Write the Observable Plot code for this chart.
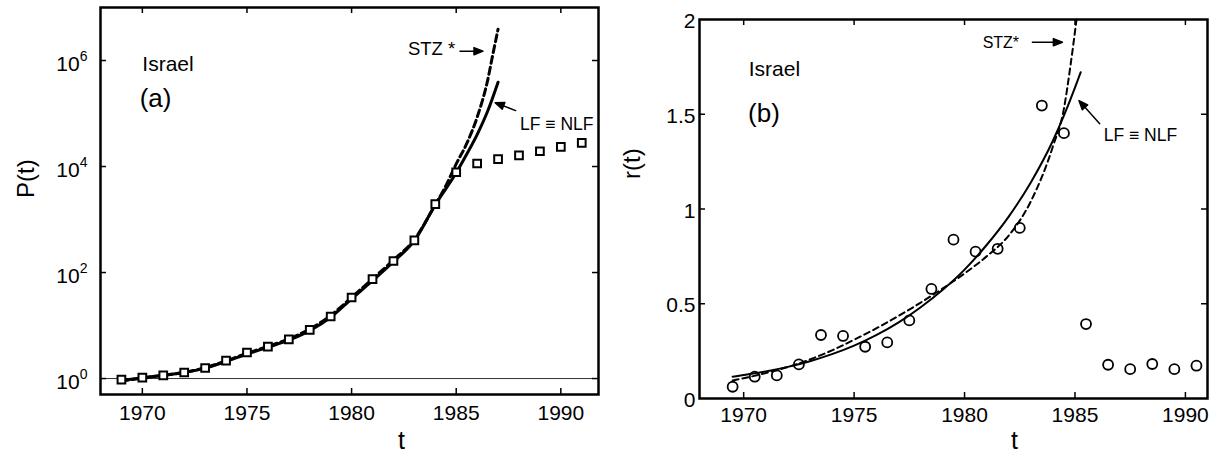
<!DOCTYPE html>
<html><head><meta charset="utf-8">
<script src="https://cdn.jsdelivr.net/npm/d3@7"></script>
<script src="https://cdn.jsdelivr.net/npm/@observablehq/plot@0.6"></script>
<style>
html,body{margin:0;padding:0;background:#fff;}
#wrap{display:flex;width:1220px;height:456px;}
#wrap svg{display:block;flex:none;}
</style></head><body><div id="wrap"></div>
<script>
// ---------- Panel (a): P(t), log scale ----------
const yearsP = [1969,1970,1971,1972,1973,1974,1975,1976,1977,1978,1979,1980,1981,1982,1983,1984,1985,1986,1987,1988,1989,1990,1991];
const P = [0.95,1.04,1.15,1.3,1.58,2.18,3.1,4.0,5.5,8.3,14.8,33.8,75,165,405,1950,7800,11400,13800,16300,19400,23400,27900];
const tLF_P = [1969,1970,1971,1972,1973,1974,1975,1976,1977,1978,1979,1980,1981,1982,1983,1984,1985,1985.5,1986,1986.5,1987];
const LF_P = [0.92,1.03,1.15,1.3,1.57,2.1,2.9,3.9,5.3,8.0,14.3,32,70,160,400,1900,7600,17000,40000,110000,390000];
const tSTZ_P = [1969,1970,1971,1972,1973,1974,1975,1976,1977,1978,1979,1980,1981,1982,1983,1984,1984.5,1985,1985.5,1986,1986.5,1986.75,1987];
const STZ_P = [0.9,1.02,1.15,1.31,1.6,2.15,3.0,4.05,5.6,8.6,15.5,34,76,172,420,1900,4300,11200,27000,85000,420000,1300000,3900000];
const xTicksL = [1970,1975,1980,1985,1990];
const yTicksL = [1,100,10000,1000000];

// ---------- Panel (b): r(t) ----------
const yearsR = [1969.5,1970.5,1971.5,1972.5,1973.5,1974.5,1975.5,1976.5,1977.5,1978.5,1979.5,1980.5,1981.5,1982.5,1983.5,1984.5,1985.5,1986.5,1987.5,1988.5,1989.5,1990.5];
const R = [0.062,0.115,0.122,0.18,0.335,0.33,0.273,0.296,0.412,0.578,0.838,0.775,0.79,0.9,1.546,1.40,0.393,0.178,0.155,0.182,0.155,0.173];
const tLF_R = [1969.5,1970,1971,1972,1973,1974,1975,1976,1977,1978,1979,1980,1981,1982,1983,1984,1985,1985.26];
const LF_R = [0.115,0.124,0.143,0.167,0.197,0.234,0.279,0.334,0.4,0.48,0.572,0.68,0.81,0.96,1.14,1.36,1.64,1.722];
const tSTZ_R = [1969.5,1970,1971,1972,1973,1974,1975,1976,1977,1978,1979,1980,1981,1982,1983,1984,1984.5,1984.8,1985.07];
const STZ_R = [0.095,0.107,0.134,0.166,0.206,0.254,0.31,0.37,0.435,0.505,0.58,0.66,0.75,0.86,1.04,1.33,1.53,1.76,2.0];
const xTicksR = [1970,1975,1980,1985,1990];
const yTicksR = [0,0.5,1,1.5,2];

const zip = (xs, ys) => xs.map((t, i) => ({t, v: ys[i]}));
const FONT = "'Liberation Sans', Arial, Helvetica, sans-serif";
const W = 610, H = 456;

const arrowHead = {
  draw(context, l) {
    const h = 9, w = 3.6;
    context.moveTo(0, 0);
    context.lineTo(0, -l + h);
    context.moveTo(0, -l);
    context.lineTo(-w, -l + h);
    context.lineTo(w, -l + h);
    context.closePath();
  }
};
function arrow(x, y, length, rotate) {
  return Plot.vector([0], {x: [x], y: [y], length, rotate, anchor: "end", shape: arrowHead,
    stroke: "black", fill: "black", strokeWidth: 1.5});
}
function label(x, y, text, fontSize, extra = {}) {
  return Plot.text([text], {x: [x], y: [y], text: d => d, textAnchor: "start", lineAnchor: "bottom",
    fontSize, fill: "black", ...extra});
}
function frameTicks(xt, yt, fw, fh) {
  const s = {stroke: "black", strokeWidth: 1.5};
  return [
    Plot.tickX(xt, {x: d => d, insetTop: fh - 6, ...s}),
    Plot.tickX(xt, {x: d => d, insetBottom: fh - 6, ...s}),
    Plot.tickY(yt, {y: d => d, insetRight: fw - 6, ...s}),
    Plot.tickY(yt, {y: d => d, insetLeft: fw - 6, ...s})
  ];
}

// Left panel
const mL = {top: 7, right: 12, bottom: 62, left: 100};
const fwL = W - mL.left - mL.right, fhL = H - mL.top - mL.bottom;
const left = Plot.plot({
  width: W, height: H,
  marginTop: mL.top, marginRight: mL.right, marginBottom: mL.bottom, marginLeft: mL.left,
  style: {fontFamily: FONT, fontSize: "21px", color: "black", background: "white"},
  x: {domain: [1968, 1991.8]},
  y: {type: "log", domain: [0.5, 1e7]},
  marks: [
    Plot.ruleY([1], {stroke: "#333", strokeWidth: 1}),
    Plot.line(zip(tSTZ_P, STZ_P), {x: "t", y: "v", stroke: "black", strokeWidth: 3, strokeDasharray: "7,4", curve: "monotone-x"}),
    Plot.line(zip(tLF_P, LF_P), {x: "t", y: "v", stroke: "black", strokeWidth: 3, curve: "monotone-x"}),
    Plot.dot(zip(yearsP, P), {x: "t", y: "v", symbol: "square", r: 4.35, fill: "white", stroke: "black", strokeWidth: 2}),
    ...frameTicks(xTicksL, yTicksL, fwL, fhL),
    Plot.frame({stroke: "black", strokeWidth: 2.5}),
    Plot.axisX({ticks: xTicksL, tickSize: 0, tickPadding: 11, tickFormat: d => String(d), label: null, fontSize: 21}),
    Plot.axisY({ticks: yTicksL, tickSize: 0, tickPadding: 13, tickFormat: d => "10^" + Math.round(Math.log10(d)), label: null, fontSize: 21, dy: 4}),
    label(1970, 6.3e5, "Israel", 21),
    label(1969.87, 1.35e5, "(a)", 26),
    label(1982.69, 1.26e6, "STZ *", 18.5),
    arrow(1986.28, 1.5e6, 23, 90),
    label(1988.05, 4.8e4, "LF \u2261 NLF", 17.5),
    arrow(1986.86, 1.6e5, 22, 291),
    Plot.text(["P(t)"], {frameAnchor: "left", text: d => d, rotate: -90, dx: -74, dy: -3, fontSize: 24, fill: "black"}),
    Plot.text(["t"], {frameAnchor: "bottom", text: d => d, lineAnchor: "bottom", dx: 52, dy: 54, fontSize: 25, fill: "black"})
  ]
});

// Right panel
const mR = {top: 19, right: 13, bottom: 58, left: 89};
const fwR = W - mR.left - mR.right, fhR = H - mR.top - mR.bottom;
const right = Plot.plot({
  width: W, height: H,
  marginTop: mR.top, marginRight: mR.right, marginBottom: mR.bottom, marginLeft: mR.left,
  style: {fontFamily: FONT, fontSize: "21px", color: "black", background: "white"},
  x: {domain: [1968, 1991]},
  y: {domain: [0, 2]},
  marks: [
    Plot.line(zip(tSTZ_R, STZ_R), {x: "t", y: "v", stroke: "black", strokeWidth: 2, strokeDasharray: "6,4", curve: "monotone-x"}),
    Plot.line(zip(tLF_R, LF_R), {x: "t", y: "v", stroke: "black", strokeWidth: 2, curve: "monotone-x"}),
    Plot.dot(zip(yearsR, R), {x: "t", y: "v", r: 5, fill: "none", stroke: "black", strokeWidth: 1.8}),
    ...frameTicks(xTicksR, yTicksR.slice(1, -1), fwR, fhR),
    Plot.frame({stroke: "black", strokeWidth: 2.5}),
    Plot.axisX({ticks: xTicksR, tickSize: 0, tickPadding: 9, tickFormat: d => String(d), label: null, fontSize: 21}),
    Plot.axisY({ticks: yTicksR, tickSize: 0, tickPadding: 4, tickFormat: d => String(d), label: null, fontSize: 21, dy: 2}),
    label(1970.23, 1.70, "Israel", 21),
    label(1970.2, 1.46, "(b)", 26),
    label(1980.82, 1.847, "STZ*", 16),
    arrow(1984.43, 1.88, 30, 90),
    label(1986.3, 1.361, "LF \u2261 NLF", 17.5),
    arrow(1985.18, 1.572, 31, 318),
    Plot.text(["r(t)"], {frameAnchor: "left", text: d => d, rotate: -90, dx: -67, dy: -30, fontSize: 24, fill: "black"}),
    Plot.text(["t"], {frameAnchor: "bottom", text: d => d, lineAnchor: "bottom", dx: 61, dy: 50, fontSize: 25, fill: "black"})
  ]
});

// superscript exponents on the log axis labels
d3.select(left).selectAll('g[aria-label="y-axis tick label"] text').each(function () {
  const s = this.textContent;
  if (s.includes("^")) {
    const [b, e] = s.split("^");
    this.textContent = b;
    d3.select(this).append("tspan").attr("dy", -10.5).attr("font-size", 14).text(e);
  }
});

const wrap = document.getElementById("wrap");
wrap.append(left, right);
</script>
</body></html>
